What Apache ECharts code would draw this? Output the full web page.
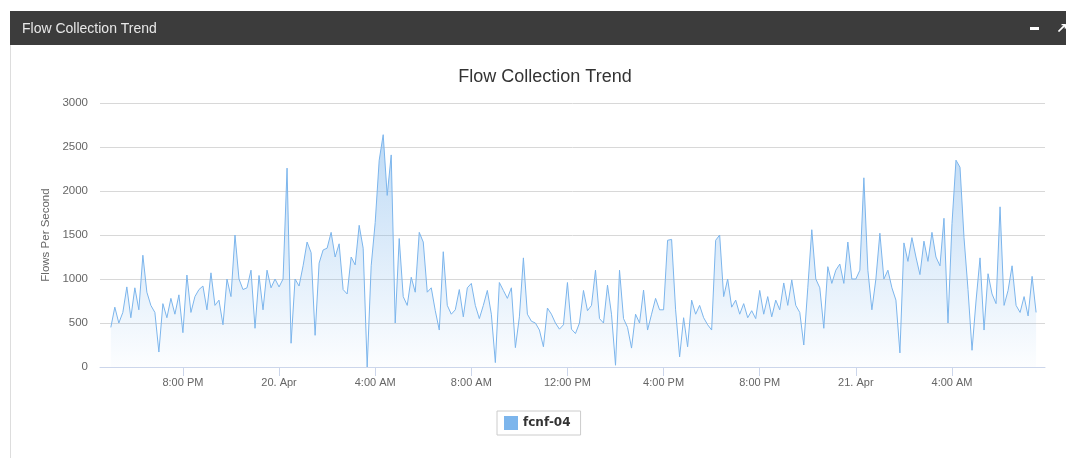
<!DOCTYPE html>
<html>
<head>
<meta charset="utf-8">
<title>Flow Collection Trend</title>
<script src="https://cdn.jsdelivr.net/npm/echarts@6.0.0/dist/echarts.min.js"></script>
<style>
    html, body { margin: 0; padding: 0; background: #fff; }
    #echart1 { width: 1066px; height: 458px; }
</style>
</head>
<body>
<div id="echart1"></div>
<script>
// hours counted from 19 Apr 00:00, one sample every 10 minutes
var sampleStartHour = 17;
var sampleStepHours = 1 / 6;

// fcnf-04, flows per second, 19 Apr 17:00 -> 21 Apr 07:30
var fcnf04 = [
    // 17:00 - 19:50
    450, 680, 500, 620, 910, 560, 900, 650, 1270, 850, 700, 620, 170, 720, 560, 780, 600, 820,
    // 20:00 - 23:50
    390, 1045, 620, 800, 880, 920, 650, 1070, 700, 760, 480, 1000, 800, 1500, 1000, 880, 900, 1100, 440, 1040, 650, 1100, 900, 1000,
    // 20 Apr 00:00 - 03:50
    910, 1000, 2260, 270, 1000, 920, 1150, 1420, 1300, 360, 1180, 1330, 1350, 1530, 1250, 1400, 880, 830, 1250, 1160, 1610, 1350, 0, 1150,
    // 04:00 - 07:50
    1640, 2350, 2640, 1950, 2410, 500, 1460, 800, 700, 1020, 850, 1530, 1420, 850, 900, 640, 420, 1310, 700, 600, 650, 880, 570, 900,
    // 08:00 - 11:50
    950, 700, 550, 700, 870, 600, 50, 960, 870, 780, 900, 220, 570, 1240, 600, 520, 500, 420, 230, 670, 600, 500, 430, 480,
    // 12:00 - 15:50
    960, 430, 380, 500, 870, 640, 700, 1100, 550, 500, 930, 600, 20, 1100, 550, 450, 215, 600, 500, 875, 420, 600, 780, 650,
    // 16:00 - 19:50
    650, 1440, 1450, 650, 115, 560, 230, 760, 600, 700, 560, 480, 420, 1440, 1500, 800, 1000, 680, 760, 600, 720, 560, 640, 550,
    // 20:00 - 23:50
    870, 600, 800, 570, 760, 650, 955, 700, 990, 700, 620, 250, 900, 1560, 1000, 900, 440, 1140, 950, 1100, 1170, 950, 1420, 1000,
    // 21 Apr 00:00 - 03:50
    1000, 1100, 2150, 1100, 650, 1000, 1520, 1000, 1100, 900, 760, 160, 1410, 1200, 1470, 1250, 1050, 1430, 1200, 1530, 1250, 1150, 1690, 500,
    // 04:00 - 07:30
    1630, 2350, 2270, 1470, 880, 190, 750, 1240, 420, 1060, 830, 720, 1820, 700, 870, 1150, 700, 620, 800, 580, 1030, 620
];

var tickHours = [20, 24, 28, 32, 36, 40, 44, 48, 52];
var dayNames = { 24: '20. Apr', 48: '21. Apr' };

function hourLabel(h) {
    if (dayNames[h]) {
        return dayNames[h];
    }
    var hh = h % 24;
    var suffix = hh < 12 ? 'AM' : 'PM';
    var h12 = hh % 12 === 0 ? 12 : hh % 12;
    return h12 + ':00 ' + suffix;
}

function initELine(domId) {
    var myChart = echarts.init(document.getElementById(domId));
    var data = [];
    for (var i = 0; i < fcnf04.length; i++) {
        data.push([sampleStartHour + i * sampleStepHours, fcnf04[i]]);
    }
    var labelFont = 'Liberation Sans, Arial, sans-serif';

    var option = {
        backgroundColor: '#fff',
        animation: false,
        color: ['#7cb5ec'],
        title: {
            text: 'Flow Collection Trend',
            left: 540,
            top: 63,
            textAlign: 'center',
            textStyle: {
                fontSize: 18,
                fontWeight: 'normal',
                fontFamily: labelFont,
                color: '#333'
            }
        },
        // panel header and frame
        graphic: [
            {
                type: 'rect',
                shape: { x: 10, y: 11, width: 1060, height: 34 },
                style: { fill: '#3c3c3c' },
                z: 10
            },
            {
                type: 'text',
                x: 22, y: 29,
                style: {
                    text: 'Flow Collection Trend',
                    fill: '#e8e8e8',
                    font: '14px Liberation Sans, Arial, sans-serif',
                    verticalAlign: 'middle'
                },
                z: 11
            },
            {
                type: 'rect',
                shape: { x: 1030, y: 27, width: 9, height: 3 },
                style: { fill: '#ffffff' },
                z: 11
            },
            {
                type: 'text',
                x: 1056, y: 29,
                style: {
                    text: '\u2197',
                    fill: '#ffffff',
                    font: 'bold 14px DejaVu Sans, sans-serif',
                    verticalAlign: 'middle'
                },
                z: 11
            },
            {
                type: 'line',
                shape: { x1: 10.5, y1: 45, x2: 10.5, y2: 458 },
                style: { stroke: '#dddddd', lineWidth: 1 },
                z: 10
            }
        ],
        legend: {
            data: ['fcnf-04'],
            left: 497,
            top: 411,
            padding: [5, 10, 5, 7],
            itemWidth: 14,
            itemHeight: 14,
            itemGap: 0,
            icon: 'rect',
            borderColor: '#cccccc',
            borderWidth: 1,
            textStyle: {
                fontSize: 12,
                fontWeight: 'bold',
                fontFamily: 'DejaVu Sans, sans-serif',
                color: '#333'
            }
        },
        grid: {
            left: 100,
            right: 21,
            top: 103,
            bottom: 91,
            containLabel: false
        },
        xAxis: {
            type: 'value',
            min: 16.55,
            max: 55.87,
            splitLine: { show: false },
            axisLine: {
                show: true,
                lineStyle: { color: '#ccd6eb' }
            },
            axisTick: {
                show: true,
                customValues: tickHours,
                length: 9,
                lineStyle: { color: '#ccd6eb' }
            },
            axisLabel: {
                customValues: tickHours,
                formatter: function (v) { return hourLabel(v); },
                color: '#666',
                fontSize: 11,
                fontFamily: labelFont,
                margin: 10
            }
        },
        yAxis: {
            type: 'value',
            min: 0,
            max: 3000,
            interval: 500,
            name: 'Flows Per Second',
            nameLocation: 'middle',
            nameGap: 46,
            nameTextStyle: {
                color: '#666',
                fontSize: 11.5,
                fontFamily: labelFont
            },
            axisLine: { show: false },
            axisTick: { show: false },
            axisLabel: {
                formatter: function (v) { return String(v); },
                color: '#666',
                fontSize: 11.5,
                fontFamily: labelFont,
                margin: 12
            },
            splitLine: {
                show: true,
                lineStyle: { color: '#d8d8d8' }
            }
        },
        series: [{
            name: 'fcnf-04',
            type: 'line',
            data: data,
            showSymbol: false,
            symbol: 'none',
            sampling: null,
            lineStyle: { width: 1, color: '#7cb5ec' },
            itemStyle: { color: '#7cb5ec' },
            areaStyle: {
                color: {
                    type: 'linear',
                    x: 0, y: 103, x2: 0, y2: 367,
                    global: true,
                    colorStops: [
                        { offset: 0, color: 'rgba(124,181,236,0.8)' },
                        { offset: 1, color: 'rgba(124,181,236,0.03)' }
                    ]
                }
            }
        }]
    };
    myChart.setOption(option);
}

initELine('echart1');
</script>
</body>
</html>
